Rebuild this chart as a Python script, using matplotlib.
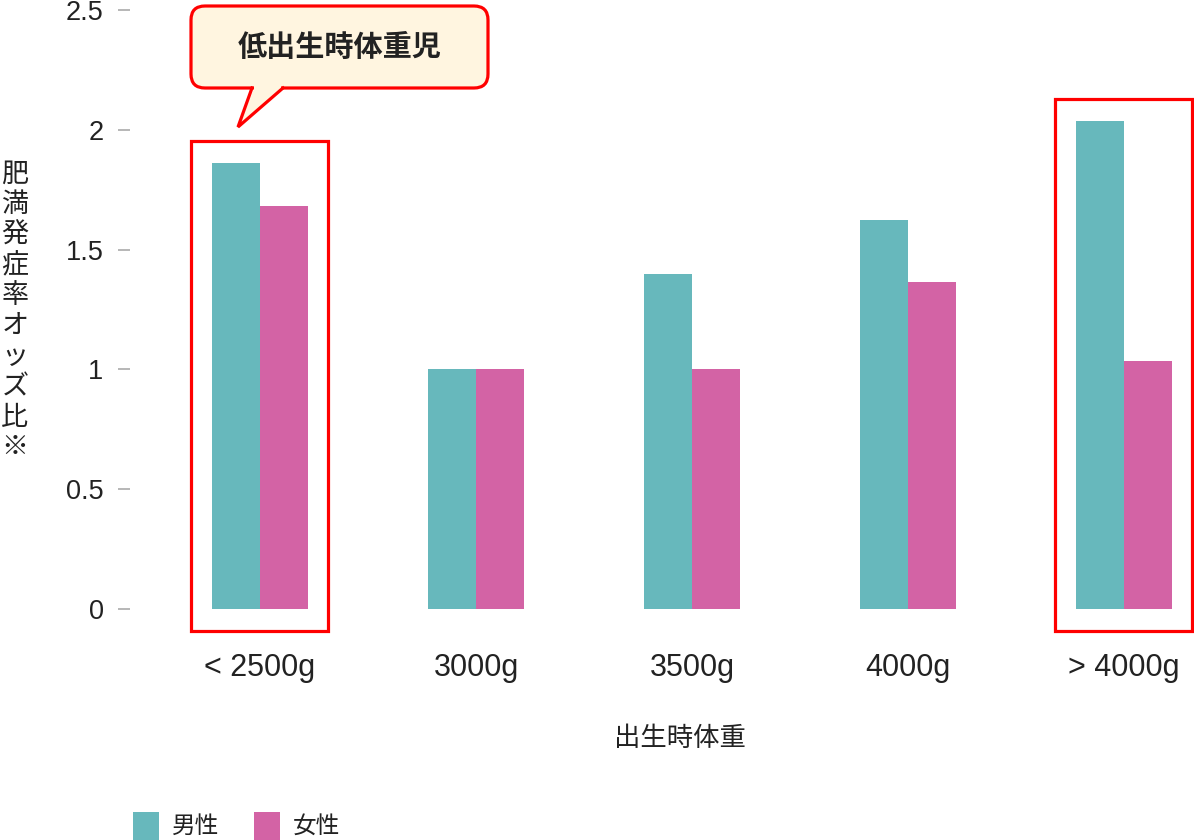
#!/usr/bin/env python3
# obesity odds ratio by birth weight (male / female bars)

import matplotlib
matplotlib.use("Agg")
import matplotlib.pyplot as plt
from matplotlib.patches import FancyBboxPatch, Polygon, Rectangle
from matplotlib.lines import Line2D
from matplotlib.transforms import Affine2D

plt.rcParams["font.family"] = ["Noto Sans CJK JP", "DejaVu Sans"]
NUM_FONT = ["Liberation Sans", "Noto Sans CJK JP"]

# ---------- data ----------
categories = ["< 2500g", "3000g", "3500g", "4000g", "> 4000g"]
male = [1.86, 1.00, 1.40, 1.625, 2.035]
female = [1.68, 1.00, 1.00, 1.365, 1.035]
yticks = [0, 0.5, 1, 1.5, 2, 2.5]
ytick_labels = ["0", "0.5", "1", "1.5", "2", "2.5"]
series_names = ["男性", "女性"]
ylabel = "肥満発症率オッズ比※"
xlabel = "出生時体重"
callout_text = "低出生時体重児"
highlight_idx = [0, 4]

TEAL = "#67b8bc"
PINK = "#d363a5"
RED = "#ff0000"
CREAM = "#fff5e0"

W, H = 1194, 840
fig = plt.figure(figsize=(W / 100, H / 100), dpi=100)
# pixel coords of the reference image (y down)
px = Affine2D().scale(1 / W, -1 / H).translate(0, 1) + fig.transFigure

ax = fig.add_axes([130 / W, (H - 609) / H, 1 - 130 / W, (609 - 10) / H])

bw = 0.222
xs = list(range(len(categories)))
ax.bar([x - bw / 2 for x in xs], male, width=bw, color=TEAL, zorder=2)
ax.bar([x + bw / 2 for x in xs], female, width=bw, color=PINK, zorder=2)

ax.set_xlim(-0.602, 4.324)
ax.set_ylim(0, 2.5)
for s in ax.spines.values():
    s.set_visible(False)

ax.set_xticks(xs)
ax.set_xticklabels(categories, fontsize=22, color="#222222", family=NUM_FONT)
ax.tick_params(axis="x", length=0, pad=32)
ax.set_yticks(yticks)
ax.set_yticklabels(ytick_labels, fontsize=19.5, color="#222222", family=NUM_FONT)
ax.tick_params(axis="y", direction="out", length=9, width=1.2, color="#aaaaaa", pad=10)

# red highlight frames around the extreme groups
for i in highlight_idx:
    top = max(male[i], female[i]) + 0.093
    r = Rectangle((i - 0.32, -0.092), 0.635, top + 0.092, fill=False,
                  edgecolor=RED, linewidth=2.3, clip_on=False, zorder=3)
    ax.add_patch(r)

# y label, stacked vertically
fig.text(15 / W, 1 - 311 / H, "\n".join(ylabel), ha="center", va="center",
         fontsize=19.5, linespacing=1.16, color="#222222")
fig.text(680 / W, 1 - 738 / H, xlabel, ha="center", va="center",
         fontsize=19, color="#222222")

# callout bubble
box = FancyBboxPatch((191, 6), 297, 82, boxstyle="round,pad=0,rounding_size=14",
                     facecolor=CREAM, edgecolor=RED, linewidth=2.3,
                     transform=px, zorder=5)
fig.add_artist(box)
tail_fill = Polygon([(254, 80), (254, 89), (240, 123), (281, 89), (281, 80)],
                    closed=True, facecolor=CREAM, edgecolor="none",
                    transform=px, zorder=6)
fig.add_artist(tail_fill)
tail_edge = Line2D([252, 238, 283], [88, 127, 88], color=RED, linewidth=2.3,
                   solid_joinstyle="miter", transform=px, zorder=7)
fig.add_artist(tail_edge)
fig.text(340 / W, 1 - 47 / H, callout_text, ha="center", va="center",
         fontsize=21, fontweight="bold", color="#222222", zorder=8)

# legend at bottom (partly cut off in the reference)
for k, (name, col) in enumerate(zip(series_names, [TEAL, PINK])):
    x0 = 133 + k * 121
    fig.add_artist(Rectangle((x0, 812), 26, 32, facecolor=col, edgecolor="none",
                             transform=px))
    fig.text((x0 + 39) / W, 1 - 826 / H, name, ha="left", va="center",
             fontsize=17, color="#222222")

fig.savefig("out.png", dpi=100)
